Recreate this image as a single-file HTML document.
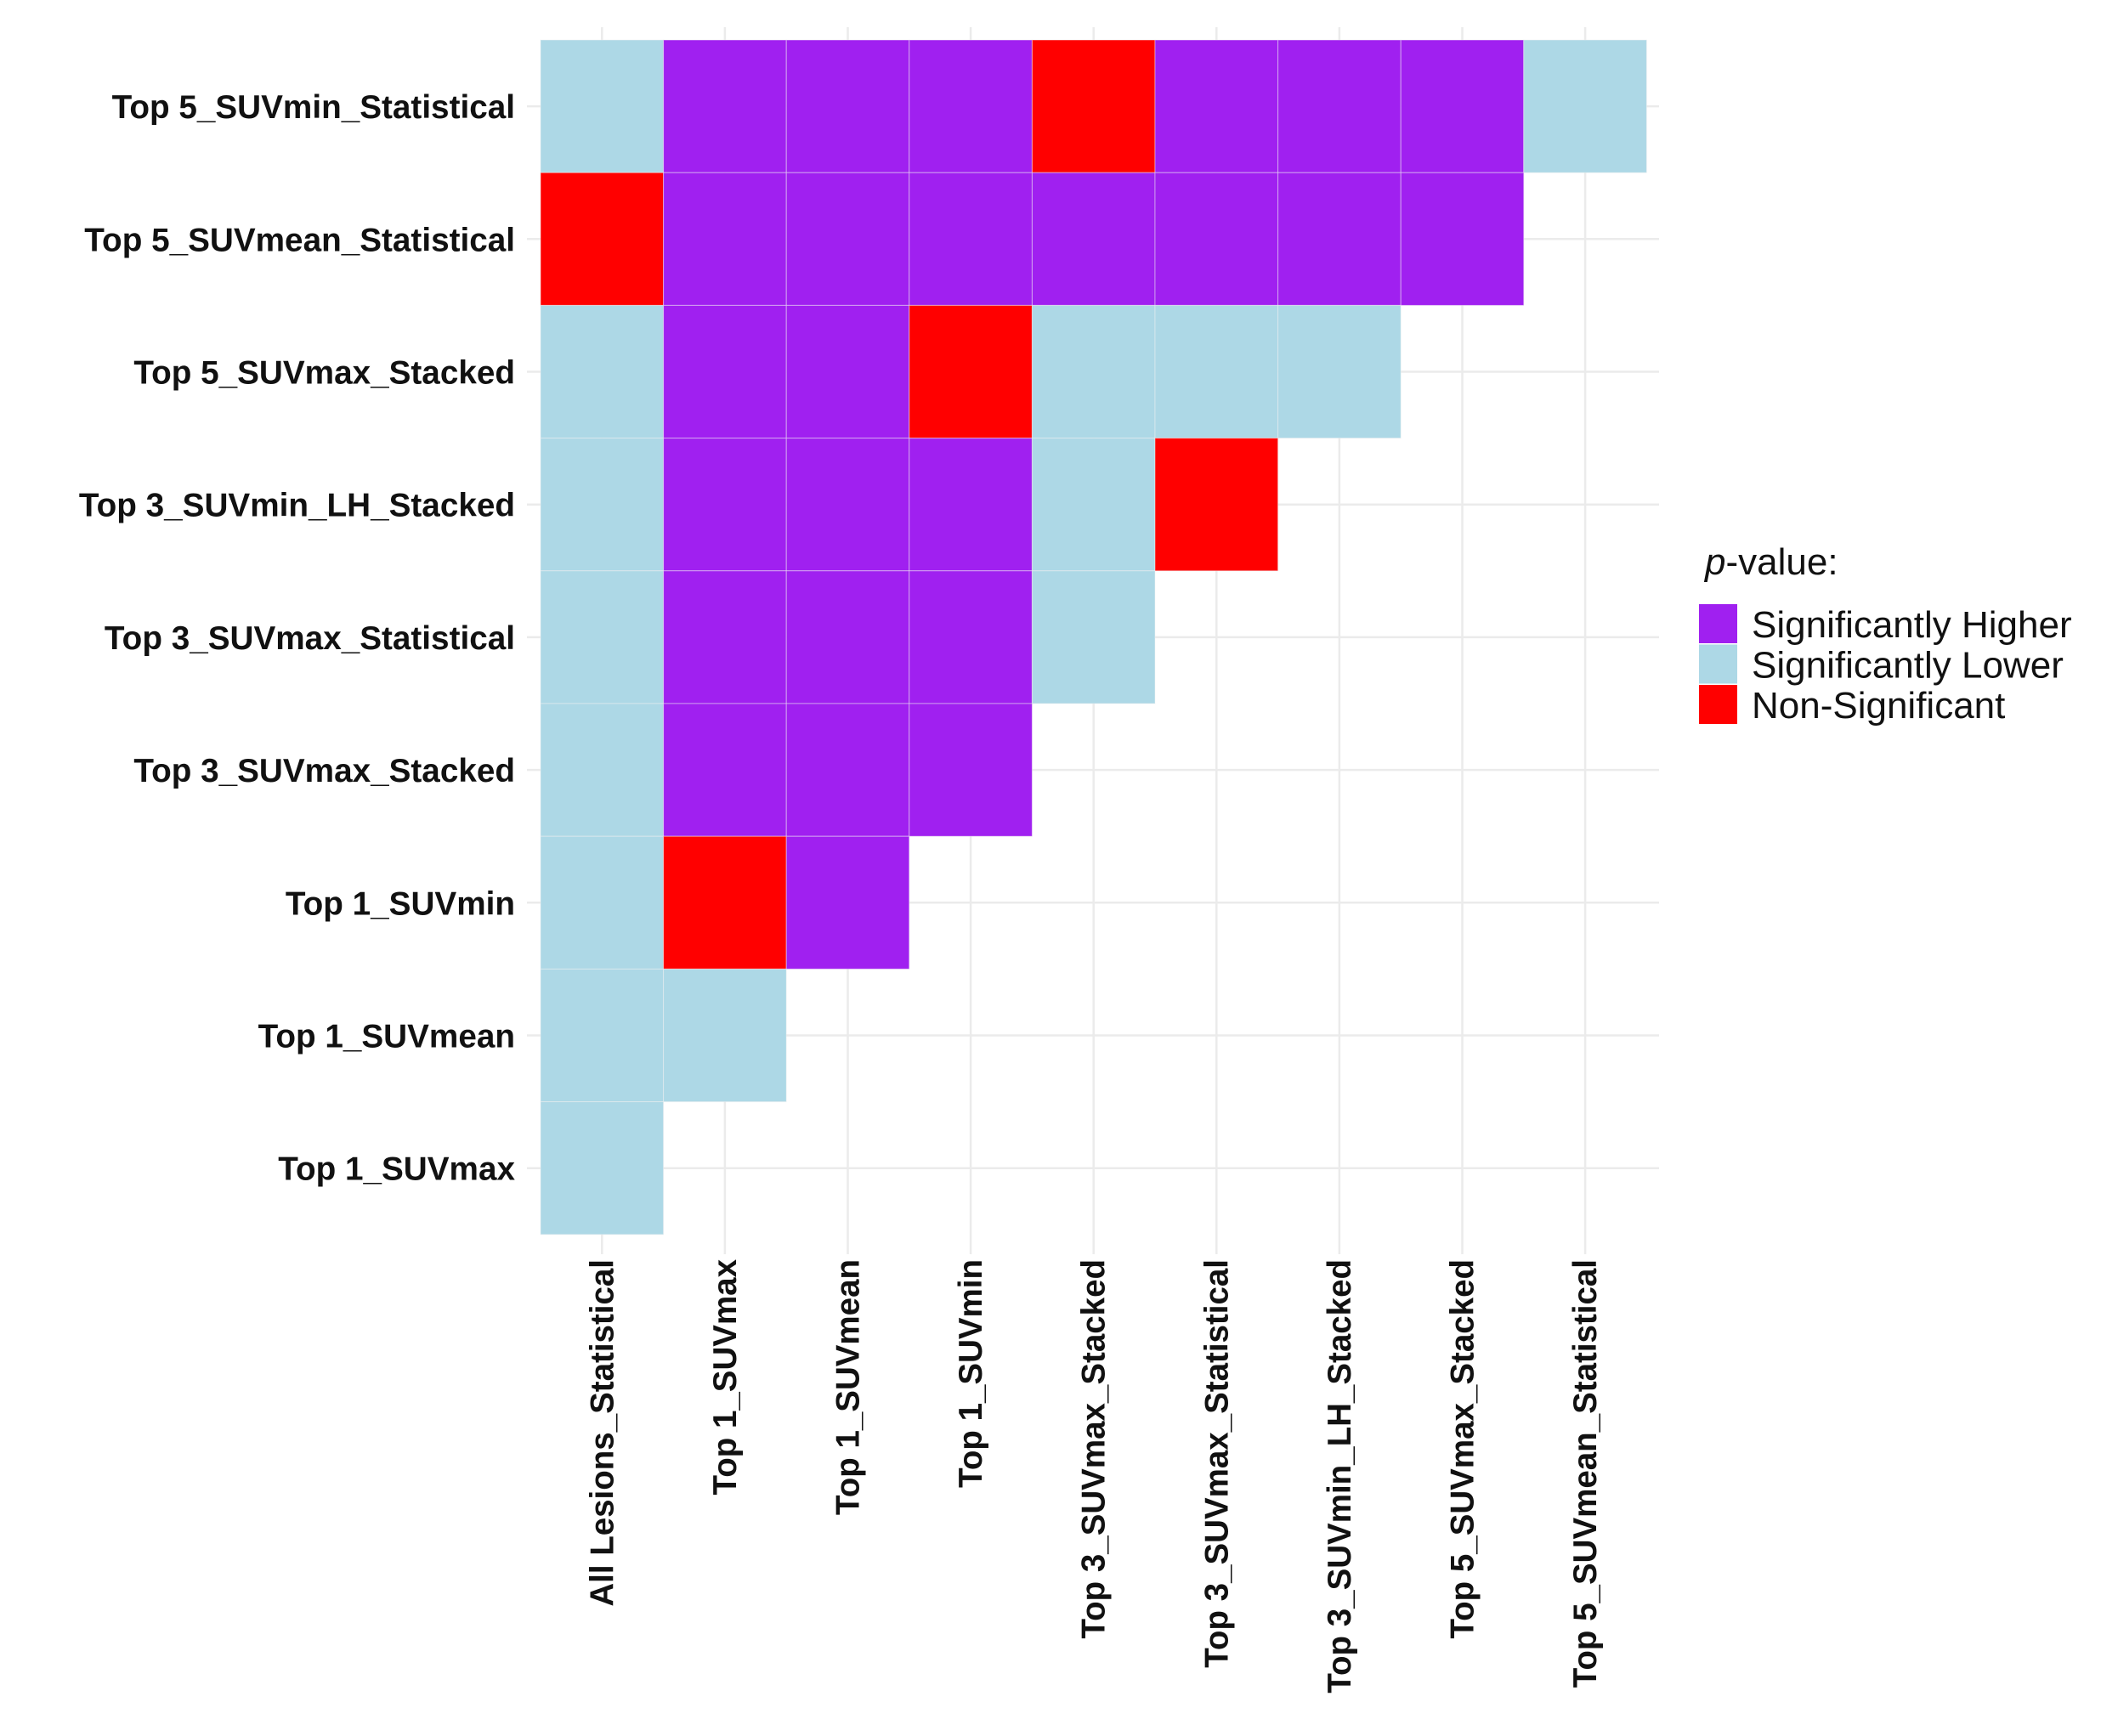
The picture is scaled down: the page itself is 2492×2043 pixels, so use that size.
<!DOCTYPE html>
<html><head><meta charset="utf-8"><style>
html,body{margin:0;padding:0;background:#fff;}
svg{display:block;}
</style></head><body>
<svg id="chart" width="2492" height="2043" viewBox="0 0 2492 2043" xmlns="http://www.w3.org/2000/svg">
<rect width="2492" height="2043" fill="#fff"/>
<g id="grid"></g><g id="cells"></g><g id="ylabels"></g><g id="xlabels"></g>
<g id="legend"></g>
</svg>
<script>
const xCategories = ["All Lesions_Statistical","Top 1_SUVmax","Top 1_SUVmean","Top 1_SUVmin","Top 3_SUVmax_Stacked","Top 3_SUVmax_Statistical","Top 3_SUVmin_LH_Stacked","Top 5_SUVmax_Stacked","Top 5_SUVmean_Statistical"];
const yCategories = ["Top 5_SUVmin_Statistical","Top 5_SUVmean_Statistical","Top 5_SUVmax_Stacked","Top 3_SUVmin_LH_Stacked","Top 3_SUVmax_Statistical","Top 3_SUVmax_Stacked","Top 1_SUVmin","Top 1_SUVmean","Top 1_SUVmax"];
// H = Significantly Higher, L = Significantly Lower, N = Non-Significant, . = none
const cellValues = [
 "LHHHNHHHL",
 "NHHHHHHH.",
 "LHHNLLL..",
 "LHHHLN...",
 "LHHHL....",
 "LHHH.....",
 "LNH......",
 "LL.......",
 "L........"
];
const legendKeys = ["H","L","N"];
const legendLabels = ["Significantly Higher","Significantly Lower","Non-Significant"];

const NS="http://www.w3.org/2000/svg";
const colors={H:"#A020F0",L:"#ADD8E6",N:"#FF0000"};
const x0=636, cw=144.6, y0=47, rh=156.2;
const xPos=i=>x0+i*cw, yPos=j=>y0+j*rh;
function mk(tag,attrs,parent){const e=document.createElementNS(NS,tag);for(const k in attrs)e.setAttribute(k,attrs[k]);parent.appendChild(e);return e;}
const grid=document.getElementById('grid');
xCategories.forEach((c,i)=>{
  const gl=mk('line',{x1:xPos(i)+cw/2,x2:xPos(i)+cw/2,y1:32,y2:1476,stroke:'#ebebeb','stroke-width':2.5},grid);
  
  
});
yCategories.forEach((c,j)=>{
  const gl=mk('line',{x1:620,x2:1952,y1:yPos(j)+rh/2,y2:yPos(j)+rh/2,stroke:'#ebebeb','stroke-width':2.5},grid);
  
  
});
const cells=document.getElementById('cells');
cellValues.forEach((row,j)=>{
  [...row].forEach((v,i)=>{
    if(v==='.')return;
    const r=mk('rect',{x:xPos(i),y:yPos(j),width:cw,height:rh,fill:colors[v],stroke:'#f2f2f2','stroke-opacity':0.5,'stroke-width':1},cells);
    
    
  });
});
const yl=document.getElementById('ylabels');
yCategories.forEach((c,j)=>{
  const t=mk('text',{x:606,y:yPos(j)+rh/2+14,'text-anchor':'end','font-family':'"Liberation Sans Narrow","Liberation Sans",sans-serif','font-weight':'bold','font-size':38.7,fill:'#111'},yl);
  t.textContent=c;
  
  
});
const xl=document.getElementById('xlabels');
xCategories.forEach((c,i)=>{
  const cx=xPos(i)+cw/2+13;
  const t=mk('text',{x:0,y:0,'text-anchor':'end','font-family':'"Liberation Sans",sans-serif','font-weight':'bold','font-size':38.5,fill:'#111',transform:`translate(${cx},1482) rotate(-90)`},xl);
  t.textContent=c;
  
  
});
const lg=document.getElementById('legend');
const title=mk('text',{x:2006,y:676,'font-family':'"Liberation Sans",sans-serif','font-size':44,fill:'#111'},lg);
title.innerHTML='<tspan font-style="italic">p</tspan>-value:';


legendKeys.forEach((k,i)=>{
  const r=mk('rect',{x:1999,y:711+i*47.5,width:45,height:46,fill:colors[k]},lg);
  
  
  const t=mk('text',{x:2061,y:750+i*47.5,'font-family':'"Liberation Sans",sans-serif','font-size':44,fill:'#111'},lg);
  t.textContent=legendLabels[i];
  
  
});
</script>
</body></html>
